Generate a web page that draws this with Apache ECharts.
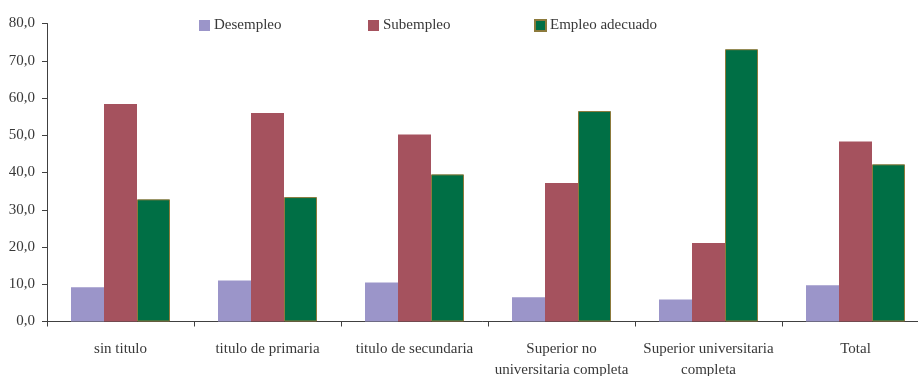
<!DOCTYPE html>
<html>
<head>
<meta charset="utf-8">
<script src="https://cdn.jsdelivr.net/npm/echarts@6/dist/echarts.min.js"></script>
<style>
  html, body { margin: 0; padding: 0; background: #fff; }
  #chart { width: 918px; height: 376px; }
</style>
</head>
<body>
<div id="chart"></div>
<script>
// Categories (nivel de instrucción)
const categories = [
  'sin titulo',
  'titulo de primaria',
  'titulo de secundaria',
  'Superior no\nuniversitaria completa',
  'Superior universitaria\ncompleta',
  'Total'
];

// Series values (%)
const desempleo = [9.2, 11.0, 10.5, 6.5, 5.9, 9.7];
const subempleo = [58.4, 56.0, 50.2, 37.2, 21.1, 48.3];
const empleoAdecuado = [32.8, 33.4, 39.5, 56.5, 73.1, 42.2];

// Y axis ticks
const yMin = 0;
const yMax = 80;
const yStep = 10;

const font = 'Liberation Serif';
const textColor = '#383838';
const axisColor = '#404040';

const chart = echarts.init(document.getElementById('chart'), null, { renderer: 'canvas' });

function legendAt(name, left) {
  return {
    data: [name],
    left: left,
    top: 13,
    itemWidth: 11,
    itemHeight: 11,
    itemGap: 4,
    icon: 'rect',
    textStyle: { fontFamily: font, fontSize: 15, color: textColor, padding: [0, 0, 0, -1] }
  };
}

chart.setOption({
  animation: false,
  legend: [
    legendAt('Desempleo', 194),
    legendAt('Subempleo', 363),
    legendAt('Empleo adecuado', 529)
  ],
  // The last category runs slightly past the right edge of the canvas
  grid: { left: 47, top: 23.5, bottom: 54.5, right: -11, containLabel: false, outerBoundsMode: 'none' },
  xAxis: {
    type: 'category',
    data: categories,
    axisLine: { lineStyle: { color: axisColor, width: 1 } },
    axisTick: { show: true, length: 5, alignWithLabel: false, lineStyle: { color: axisColor } },
    axisLabel: {
      interval: 0,
      margin: 17,
      fontFamily: font,
      fontSize: 15,
      lineHeight: 21,
      color: textColor
    },
    splitLine: { show: false }
  },
  yAxis: {
    type: 'value',
    min: yMin,
    max: yMax,
    interval: yStep,
    axisLine: { show: true, lineStyle: { color: axisColor, width: 1 } },
    axisTick: { show: true, length: 5, lineStyle: { color: axisColor } },
    axisLabel: {
      margin: 12,
      fontFamily: font,
      fontSize: 15,
      color: textColor,
      formatter: v => v.toFixed(1).replace('.', ',')
    },
    splitLine: { show: false }
  },
  series: [
    {
      name: 'Desempleo',
      type: 'bar',
      data: desempleo,
      barWidth: 33,
      barGap: '0%',
      itemStyle: { color: '#9B95C9' }
    },
    {
      name: 'Subempleo',
      type: 'bar',
      data: subempleo,
      barWidth: 33,
      barGap: '0%',
      itemStyle: { color: '#A5525E' }
    },
    {
      name: 'Empleo adecuado',
      type: 'bar',
      data: empleoAdecuado,
      barWidth: 33,
      barGap: '0%',
      itemStyle: { color: '#006F45', borderColor: '#8C7A3C', borderWidth: 1 }
    }
  ]
});
</script>
</body>
</html>
